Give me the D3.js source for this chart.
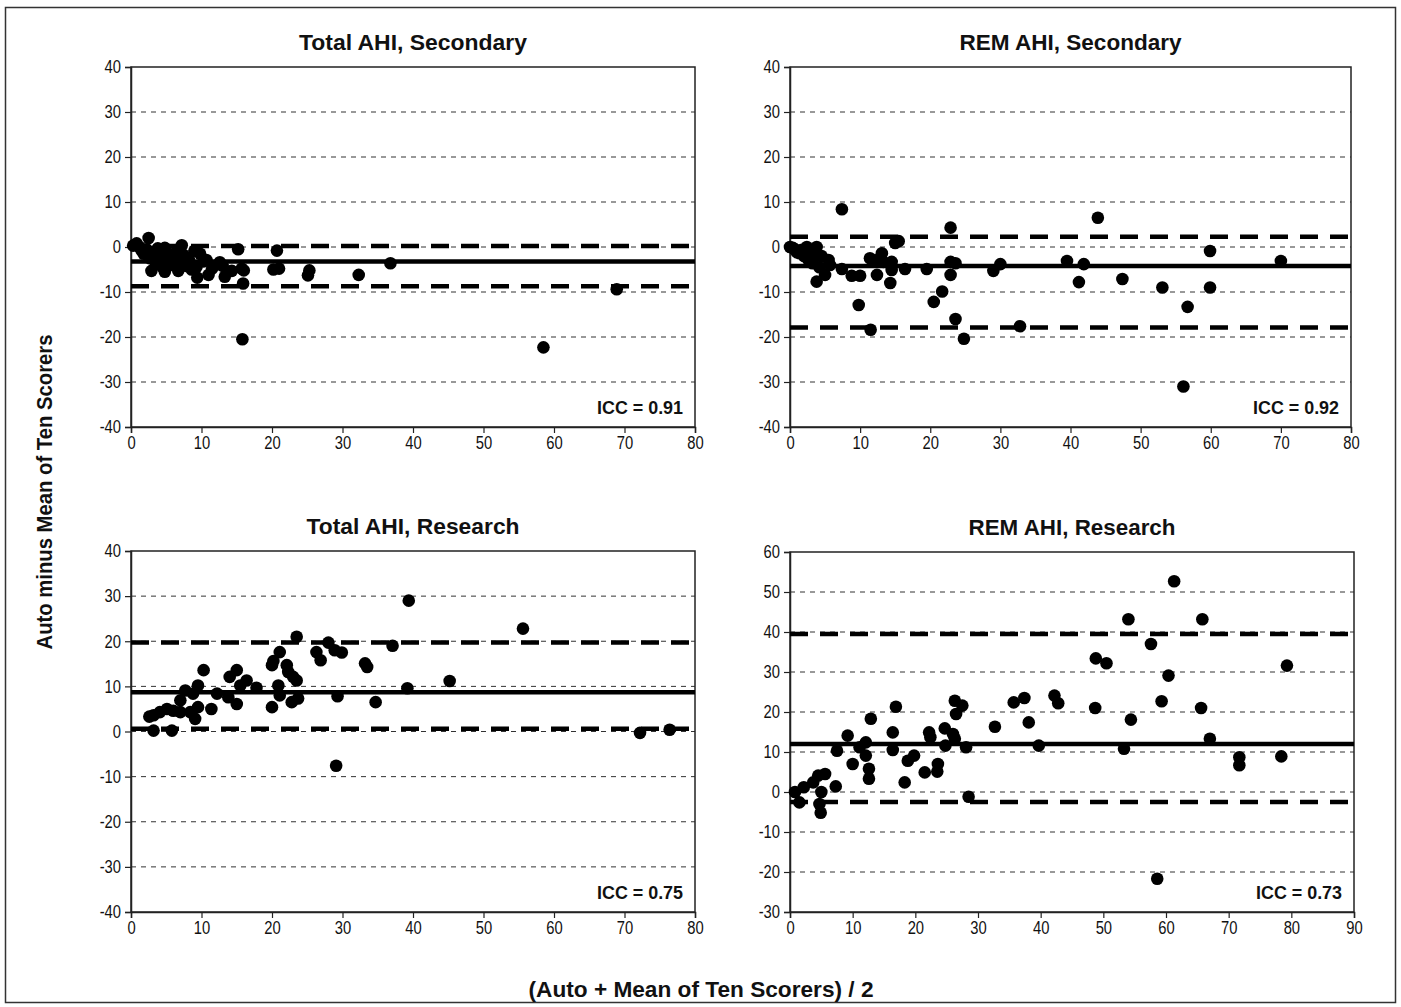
<!DOCTYPE html>
<html><head><meta charset="utf-8">
<script src="https://cdn.jsdelivr.net/npm/d3@7"></script>
<style>
body{margin:0;background:#fff;}
svg text{font-family:"Liberation Sans","Arial",sans-serif;}
</style></head>
<body><svg id="c" width="1401" height="1007"></svg>
<script>
// ---------- data ----------
const titles = ["Total AHI, Secondary","REM AHI, Secondary","Total AHI, Research","REM AHI, Research"];
const iccLabels = ["ICC = 0.91","ICC = 0.92","ICC = 0.75","ICC = 0.73"];
const xDomains = [[0,80],[0,80],[0,80],[0,90]];
const yDomains = [[-40,40],[-40,40],[-40,40],[-30,60]];
const xTicks = [[0,10,20,30,40,50,60,70,80],[0,10,20,30,40,50,60,70,80],[0,10,20,30,40,50,60,70,80],[0,10,20,30,40,50,60,70,80,90]];
const yTicks = [[-40,-30,-20,-10,0,10,20,30,40],[-40,-30,-20,-10,0,10,20,30,40],[-40,-30,-20,-10,0,10,20,30,40],[-30,-20,-10,0,10,20,30,40,50,60]];
const meanDiff = [-3.2, -4.2, 8.7, 12.0];
const upperLimit = [0.2, 2.3, 19.7, 39.5];
const lowerLimit = [-8.7, -17.9, 0.6, -2.5];

const totalSecondary = [[0.3,0.3],[0.8,0.8],[1.2,0],[1.5,-0.8],[1.8,-1.5],[2.2,-0.5],[2.5,2.0],[2.7,-2.5],[2.9,-5.3],[3.2,-1.2],[3.5,-3.5],[3.8,-0.3],[4.2,-2.0],[4.5,-4.5],[4.8,-0.2],[4.8,-5.5],[5.2,-1.5],[5.5,-3.0],[5.8,-4.0],[6.2,-2.2],[6.5,-0.8],[6.7,-5.3],[7.0,-3.2],[7.2,0.4],[7.5,-1.8],[7.8,-4.2],[8.2,-2.6],[8.6,-5.0],[9.0,-0.8],[9.3,-4.4],[9.4,-6.8],[9.8,-1.5],[10.3,-3.2],[10.7,-2.9],[11.0,-6.2],[11.5,-4.8],[12.6,-3.4],[13.0,-4.2],[13.3,-6.6],[14.3,-5.3],[15.2,-0.5],[15.7,-4.8],[15.9,-8.1],[16.0,-5.2],[15.8,-20.5],[20.2,-5.0],[20.7,-0.8],[21.0,-4.8],[25.1,-6.3],[25.3,-5.2],[32.3,-6.2],[36.8,-3.6],[58.5,-22.3],[68.9,-9.4]];
const remSecondary = [[0,0],[0.4,-0.2],[0.7,-0.5],[1.0,-1.2],[1.4,-1.4],[1.7,-0.6],[2.0,-2.0],[2.4,0],[2.6,-2.8],[2.9,-1.5],[3.2,-3.6],[3.5,-2.2],[3.8,0],[3.8,-7.7],[4.2,-4.5],[4.5,-2.0],[5.0,-6.2],[5.5,-2.9],[5.7,-4.0],[7.4,8.4],[7.4,-4.9],[8.8,-6.4],[10.0,-6.4],[9.8,-12.9],[11.4,-2.5],[12.4,-2.9],[12.4,-6.2],[13.1,-1.4],[13.3,-3.3],[14.3,-8.0],[14.5,-5.1],[14.5,-3.3],[11.5,-18.4],[15.0,0.9],[15.5,1.3],[16.4,-4.9],[19.5,-4.9],[20.5,-12.2],[21.7,-9.9],[22.9,4.3],[22.9,-3.3],[22.9,-6.2],[23.6,-3.6],[23.6,-16.0],[24.8,-20.4],[29.0,-5.3],[30.0,-3.8],[32.8,-17.6],[39.5,-3.1],[41.2,-7.8],[41.9,-3.8],[43.9,6.5],[47.4,-7.1],[53.1,-9.0],[56.1,-31.0],[56.7,-13.3],[59.9,-0.9],[59.9,-9.0],[70.0,-3.1]];
const totalResearch = [[3.2,0.2],[3.2,3.6],[2.6,3.3],[4.1,4.3],[5.1,5.0],[5.8,0.2],[6.0,4.6],[7.0,6.9],[7.0,4.3],[7.7,9.1],[8.4,4.3],[8.8,8.4],[9.1,2.8],[9.5,10.2],[9.5,5.4],[10.3,13.6],[11.4,5.0],[12.2,8.4],[13.8,7.6],[14.0,12.1],[15.0,13.6],[15.0,6.1],[15.5,10.2],[16.4,11.3],[17.8,9.7],[20.0,14.7],[20.2,15.6],[20.0,5.4],[20.9,10.2],[21.1,17.6],[21.1,8.0],[22.1,14.7],[22.3,13.2],[22.8,6.5],[23.0,12.1],[23.5,11.3],[23.7,7.3],[23.5,21.0],[26.3,17.6],[26.9,15.8],[28.0,19.7],[28.9,18.0],[29.9,17.5],[29.3,7.8],[29.1,-7.6],[33.2,15.1],[33.5,14.3],[34.7,6.5],[37.1,19.0],[39.2,9.6],[39.4,29.0],[45.2,11.2],[55.6,22.8],[72.2,-0.3],[76.4,0.4]];
const remResearch = [[0.8,0],[1.5,-2.6],[2.2,1.2],[3.7,2.4],[4.5,4.1],[5.6,4.5],[5.0,0],[4.7,-3.0],[4.9,-5.2],[7.3,1.4],[7.5,10.3],[9.2,14.1],[10.0,7.0],[11.1,11.2],[12.1,12.4],[12.1,9.1],[12.6,5.8],[12.6,3.3],[12.9,18.3],[16.9,21.3],[16.4,14.9],[16.4,10.5],[18.8,7.8],[19.8,9.1],[18.3,2.4],[21.5,4.9],[22.2,14.9],[22.4,13.7],[23.6,7.0],[23.5,5.1],[24.7,15.9],[24.8,11.6],[26.3,22.8],[27.5,21.6],[26.5,19.5],[26.0,14.5],[26.3,13.3],[28.1,11.2],[28.5,-1.2],[32.7,16.3],[35.7,22.4],[37.4,23.5],[38.1,17.4],[39.7,11.6],[42.2,24.1],[42.8,22.2],[48.7,21.0],[48.8,33.4],[50.5,32.2],[53.3,10.8],[54.0,43.2],[54.4,18.1],[57.6,37.0],[58.6,-21.7],[59.3,22.7],[60.4,29.1],[61.3,52.7],[65.6,21.0],[65.8,43.2],[67.0,13.3],[71.7,8.7],[71.7,6.7],[78.4,8.9],[79.3,31.6]];
const seriesData = [totalSecondary, remSecondary, totalResearch, remResearch];

// ---------- layout ----------
const boxes = [
  {l:131,r:695,t:67,b:427},
  {l:790,r:1351,t:67,b:427},
  {l:131,r:695,t:551,b:912},
  {l:790,r:1354,t:552,b:912}
];
const titleWidths = [228, 222, 213, 207];

const svg = d3.select("#c");
svg.append("rect").attr("x",5.5).attr("y",7.5).attr("width",1390).attr("height",995)
  .attr("fill","none").attr("stroke","#333").attr("stroke-width",1.5);

const fmt = d => String(d);

boxes.forEach((bx,i)=>{
  const x = d3.scaleLinear().domain(xDomains[i]).range([bx.l,bx.r]);
  const y = d3.scaleLinear().domain(yDomains[i]).range([bx.b,bx.t]);
  const g = svg.append("g");
  g.selectAll(".grid").data(yTicks[i].filter(v=>v!==yDomains[i][0]&&v!==yDomains[i][1])).enter()
    .append("line").attr("x1",bx.l).attr("x2",bx.r).attr("y1",d=>y(d)).attr("y2",d=>y(d))
    .attr("stroke","#333").attr("stroke-width",1).attr("stroke-dasharray","5,5");
  g.append("rect").attr("x",bx.l).attr("y",bx.t).attr("width",bx.r-bx.l).attr("height",bx.b-bx.t)
    .attr("fill","none").attr("stroke","#222").attr("stroke-width",1.5);
  const ya = g.append("g").attr("transform",`translate(${bx.l},0)`)
    .call(d3.axisLeft(y).tickValues(yTicks[i]).tickSize(6).tickPadding(4).tickFormat(fmt));
  const xa = g.append("g").attr("transform",`translate(0,${bx.b})`)
    .call(d3.axisBottom(x).tickValues(xTicks[i]).tickSize(6).tickPadding(3).tickFormat(fmt));
  [ya,xa].forEach(a=>{
    a.select(".domain").attr("stroke","#222").attr("stroke-width",1.5);
    a.selectAll(".tick line").attr("stroke","#222").attr("stroke-width",1.2);
    a.selectAll("text").attr("font-size",18).attr("fill","#111")
      .style("font-family",'"Liberation Sans",Arial,sans-serif')
      .each(function(){
        const w = this.getComputedTextLength();
        d3.select(this).attr("textLength", w*0.82).attr("lengthAdjust","spacingAndGlyphs");
      });
  });
  [upperLimit[i], lowerLimit[i]].forEach(v=>{
    g.append("line").attr("x1",bx.l).attr("x2",bx.r).attr("y1",y(v)).attr("y2",y(v))
      .attr("stroke","#000").attr("stroke-width",4.5).attr("stroke-dasharray","18,12");
  });
  g.append("line").attr("x1",bx.l).attr("x2",bx.r).attr("y1",y(meanDiff[i])).attr("y2",y(meanDiff[i]))
    .attr("stroke","#000").attr("stroke-width",4.5);
  g.selectAll(".pt").data(seriesData[i]).enter().append("circle")
    .attr("cx",d=>x(d[0])).attr("cy",d=>y(d[1])).attr("r",6.3).attr("fill","#000");
  g.append("text").attr("x",(bx.l+bx.r)/2).attr("y",bx.t-17).attr("text-anchor","middle")
    .attr("font-size",22).attr("font-weight","bold").attr("fill","#111")
    .attr("textLength",titleWidths[i]).attr("lengthAdjust","spacingAndGlyphs").text(titles[i]);
  g.append("text").attr("x",bx.r-12).attr("y",bx.b-13).attr("text-anchor","end")
    .attr("font-size",18).attr("font-weight","bold").attr("fill","#111")
    .attr("textLength",86).attr("lengthAdjust","spacingAndGlyphs").text(iccLabels[i]);
});

svg.append("text").attr("transform","translate(52,492) rotate(-90)").attr("text-anchor","middle")
  .attr("font-size",22).attr("font-weight","bold").attr("fill","#111")
  .attr("textLength",315).attr("lengthAdjust","spacingAndGlyphs").text("Auto minus Mean of Ten Scorers");
svg.append("text").attr("x",701).attr("y",997).attr("text-anchor","middle")
  .attr("font-size",22).attr("font-weight","bold").attr("fill","#111")
  .attr("textLength",345).attr("lengthAdjust","spacingAndGlyphs").text("(Auto + Mean of Ten Scorers) / 2");
</script></body></html>
